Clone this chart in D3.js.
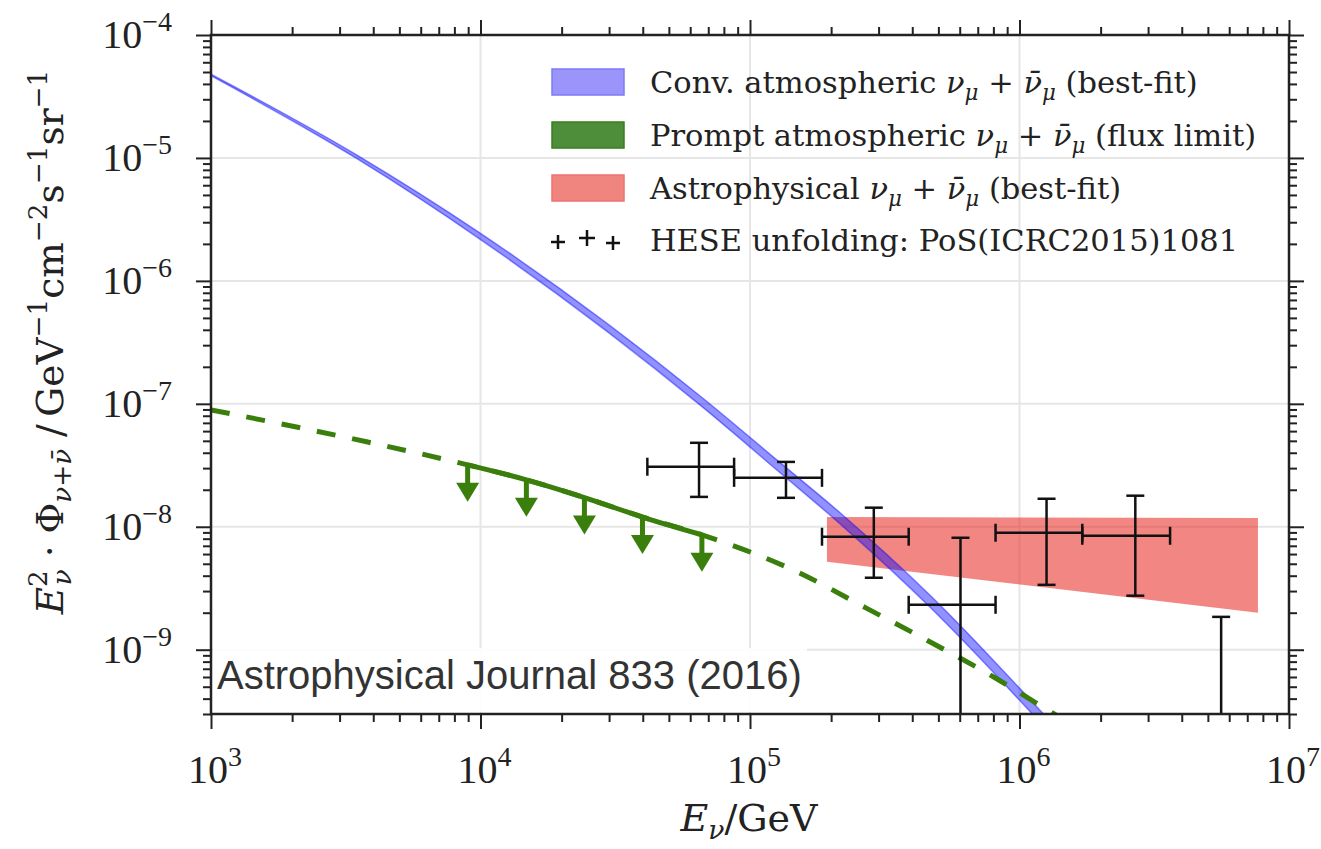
<!DOCTYPE html>
<html>
<head>
<meta charset="utf-8">
<script src="https://cdn.jsdelivr.net/npm/d3@7"></script>
<style>
  body { margin: 0; background: #fff; }
  svg { display: block; }
</style>
</head>
<body>
<div id="chart"></div>
<script>
// conventional atmospheric best fit (band)
let convEnergy = [1e3, 3.48e3, 1e4, 6.76e4, 1.28e5, 2.19e5, 4.72e5, 1.15e6, 1.39e6]
let convFlux = [4.73e-5, 1.02e-5, 2.3e-6, 1.0e-7, 3.08e-8, 1.14e-8, 2.41e-9, 3.13e-10, 2.0e-10]
let convSpread = [1.015, 1.035, 1.06, 1.09, 1.1, 1.11, 1.12, 1.12, 1.12]

// prompt atmospheric model (dashed) and the flux limit (solid + arrows)
let promptEnergy = [1e3, 3.78e3, 8.96e3, 1.48e4, 2.39e4, 3.95e4, 6.63e4, 1.52e5, 2.69e5, 4.72e5, 8.35e5, 1.15e6, 1.52e6]
let promptFlux = [8.93e-8, 4.91e-8, 3.19e-8, 2.41e-8, 1.75e-8, 1.21e-8, 8.61e-9, 4.23e-9, 2.19e-9, 1.14e-9, 5.7e-10, 3.7e-10, 2.55e-10]
let limitEnergy = [8.96e3, 1.48e4, 2.43e4, 3.99e4, 6.63e4]
let limitFlux = [3.19e-8, 2.41e-8, 1.73e-8, 1.2e-8, 8.61e-9]

// astrophysical best fit band
let astroEnergy = [1.93e5, 7.67e6]
let astroUpper = [1.2e-8, 1.18e-8]
let astroLower = [5.2e-9, 2.0e-9]

// HESE unfolding points
let heseEnergy = [6.47e4, 1.36e5, 2.88e5, 6.04e5, 1.26e6, 2.69e6, 5.6e6]
let heseBinLow = [4.16e4, 8.73e4, 1.85e5, 3.88e5, 8.15e5, 1.71e6, null]
let heseBinHigh = [8.73e4, 1.85e5, 3.88e5, 8.15e5, 1.71e6, 3.62e6, null]
let heseFlux = [3.08e-8, 2.5e-8, 8.3e-9, 2.32e-9, 8.94e-9, 8.45e-9, null]
let heseUpper = [4.82e-8, 3.37e-8, 1.43e-8, 8.14e-9, 1.69e-8, 1.79e-8, 1.85e-9]
let heseLower = [1.75e-8, 1.72e-8, 3.85e-9, 1e-12, 3.37e-9, 2.75e-9, 1e-12]

// axes
let xTickExp = [3, 4, 5, 6, 7]
let yTickExp = [-9, -8, -7, -6, -5, -4]

let legendLabels = [
  ["Conv. atmospheric ", " (best-fit)"],
  ["Prompt atmospheric ", " (flux limit)"],
  ["Astrophysical ", " (best-fit)"],
  ["HESE unfolding: PoS(ICRC2015)1081", null]
]
let sourceNote = "Astrophysical Journal 833 (2016)"

let width = 1321, height = 849
let pLeft = 211, pRight = 1289, pTop = 35, pBottom = 714

let serif = "'Liberation Serif', 'Times New Roman', serif"
let wideSerif = "'DejaVu Serif', serif"
let green = "#3a7f0c"

let x = d3.scaleLog().domain([1e3, 1e7]).range([pLeft, pRight])
let y = d3.scaleLog().domain([3.0e-10, 1e-4]).range([pBottom, pTop])

let svg = d3.select("#chart").append("svg")
  .attr("width", width)
  .attr("height", height)
  .style("font-family", serif)

svg.append("clipPath").attr("id", "plot")
  .append("rect")
  .attr("x", pLeft).attr("y", pTop)
  .attr("width", pRight - pLeft).attr("height", pBottom - pTop)

// text with super/subscripts: parts = [{t, sup|sub|it, dx}]
let richText = (text, parts, size) => {
  let shift = 0
  parts.forEach(p => {
    let target = p.sup ? -0.42 * size : p.sub ? 0.22 * size : 0
    let ts = text.append("tspan").text(p.t)
      .attr("dy", target - shift)
      .attr("font-size", (p.sup || p.sub) ? size * 0.7 : size)
    if (p.it) ts.attr("font-style", "italic")
    if (p.dx) ts.attr("dx", p.dx)
    shift = target
  })
}

// grid
let grid = svg.append("g").attr("stroke", "#e6e6e6").attr("stroke-width", 2)
grid.selectAll(".gx").data(xTickExp.slice(1, -1)).enter().append("line")
  .attr("x1", d => x(Math.pow(10, d))).attr("x2", d => x(Math.pow(10, d)))
  .attr("y1", pTop).attr("y2", pBottom)
grid.selectAll(".gy").data(yTickExp.slice(0, -1)).enter().append("line")
  .attr("y1", d => y(Math.pow(10, d))).attr("y2", d => y(Math.pow(10, d)))
  .attr("x1", pLeft).attr("x2", pRight)

let plot = svg.append("g").attr("clip-path", "url(#plot)")

// astrophysical band
let astroArea = d3.area()
  .x((d, i) => x(astroEnergy[i]))
  .y0((d, i) => y(astroLower[i]))
  .y1((d, i) => y(astroUpper[i]))
plot.append("path")
  .attr("d", astroArea(astroEnergy))
  .attr("fill", "#e8231c")
  .attr("fill-opacity", 0.55)

// conventional band
let convArea = d3.area()
  .curve(d3.curveMonotoneX)
  .x((d, i) => x(convEnergy[i]))
  .y0((d, i) => y(convFlux[i] / convSpread[i]))
  .y1((d, i) => y(convFlux[i] * convSpread[i]))
plot.append("path")
  .attr("d", convArea(convEnergy))
  .attr("fill", "blue")
  .attr("fill-opacity", 0.43)
  .attr("stroke", "blue")
  .attr("stroke-opacity", 0.43)
  .attr("stroke-width", 1.5)

// prompt model, dashed
let promptLine = d3.line()
  .curve(d3.curveMonotoneX)
  .x((d, i) => x(promptEnergy[i]))
  .y((d, i) => y(promptFlux[i]))
plot.append("path")
  .attr("d", promptLine(promptEnergy))
  .attr("fill", "none")
  .attr("stroke", green)
  .attr("stroke-width", 5)
  .attr("stroke-dasharray", "19,17")

// flux limit, solid with arrows
let limitLine = d3.line()
  .curve(d3.curveMonotoneX)
  .x((d, i) => x(limitEnergy[i]))
  .y((d, i) => y(limitFlux[i]))
plot.append("path")
  .attr("d", limitLine(limitEnergy))
  .attr("fill", "none")
  .attr("stroke", green)
  .attr("stroke-width", 5)
  .attr("stroke-linejoin", "round")

let arrows = plot.selectAll(".arrow")
  .data(limitEnergy)
  .enter()
  .append("g")
  .attr("transform", (d, i) => "translate(" + x(d) + "," + y(limitFlux[i]) + ")")
arrows.append("line")
  .attr("x1", 0).attr("x2", 0)
  .attr("y1", 0).attr("y2", 22)
  .attr("stroke", green).attr("stroke-width", 5)
arrows.append("path")
  .attr("d", "M-11.5,18 L11.5,18 L0,37 Z")
  .attr("fill", green)

// HESE error bars
let hese = plot.append("g").attr("stroke", "#111").attr("stroke-width", 2.5).attr("fill", "none")
let cap = 9
heseEnergy.forEach((e, i) => {
  let cx = x(e)
  hese.append("line")
    .attr("x1", cx).attr("x2", cx)
    .attr("y1", y(heseUpper[i])).attr("y2", y(heseLower[i]))
  hese.append("line")
    .attr("x1", cx - cap).attr("x2", cx + cap)
    .attr("y1", y(heseUpper[i])).attr("y2", y(heseUpper[i]))
  hese.append("line")
    .attr("x1", cx - cap).attr("x2", cx + cap)
    .attr("y1", y(heseLower[i])).attr("y2", y(heseLower[i]))
  if (heseFlux[i] != null) {
    let cy = y(heseFlux[i])
    hese.append("line")
      .attr("x1", x(heseBinLow[i])).attr("x2", x(heseBinHigh[i]))
      .attr("y1", cy).attr("y2", cy)
    ;[heseBinLow[i], heseBinHigh[i]].forEach(b => {
      hese.append("line")
        .attr("x1", x(b)).attr("x2", x(b))
        .attr("y1", cy - cap).attr("y2", cy + cap)
    })
  }
})

// source note box
svg.append("rect")
  .attr("x", pLeft + 2).attr("y", 648)
  .attr("width", 594).attr("height", 64)
  .attr("fill", "#fff").attr("fill-opacity", 0.9)
svg.append("text")
  .attr("x", 217).attr("y", 689)
  .attr("font-family", "'Liberation Sans', Arial, sans-serif")
  .attr("font-size", 40)
  .attr("fill", "#333")
  .text(sourceNote)

// axes: ticks outward on every side
let majorX = xTickExp.map(d => Math.pow(10, d))
let majorY = yTickExp.map(d => Math.pow(10, d))
let minorX = x.ticks().filter(d => !majorX.some(m => Math.abs(m - d) / m < 1e-6))
let minorY = y.ticks().filter(d => !majorY.some(m => Math.abs(m - d) / m < 1e-6))

let styleAxis = g => {
  g.select(".domain").remove()
  g.selectAll("line").attr("stroke", "#222").attr("stroke-width", 2)
}
let addAxis = (axisFn, scale, pos, majors, minors) => {
  svg.append("g").attr("transform", pos)
    .call(axisFn(scale).tickValues(majors).tickSize(15).tickFormat(""))
    .call(styleAxis)
  svg.append("g").attr("transform", pos)
    .call(axisFn(scale).tickValues(minors).tickSize(8).tickFormat(""))
    .call(styleAxis)
}
addAxis(d3.axisBottom, x, "translate(0," + pBottom + ")", majorX, minorX)
addAxis(d3.axisTop, x, "translate(0," + pTop + ")", majorX, minorX)
addAxis(d3.axisLeft, y, "translate(" + pLeft + ",0)", majorY, minorY)
addAxis(d3.axisRight, y, "translate(" + pRight + ",0)", majorY, minorY)

svg.append("rect")
  .attr("x", pLeft).attr("y", pTop)
  .attr("width", pRight - pLeft).attr("height", pBottom - pTop)
  .attr("fill", "none").attr("stroke", "#222").attr("stroke-width", 2.5)

// tick labels
let tickSize = 40
xTickExp.forEach(d => {
  let t = svg.append("text")
    .attr("x", x(Math.pow(10, d)) + 4).attr("y", 783)
    .attr("text-anchor", "middle")
    .attr("font-size", tickSize)
    .attr("fill", "#222")
  richText(t, [{ t: "10" }, { t: String(d), sup: true }], tickSize)
})
yTickExp.forEach(d => {
  let t = svg.append("text")
    .attr("x", 172).attr("y", y(Math.pow(10, d)) + 13)
    .attr("text-anchor", "end")
    .attr("font-size", tickSize)
    .attr("fill", "#222")
  richText(t, [{ t: "10" }, { t: "\u2212" + Math.abs(d), sup: true }], tickSize)
})

// axis titles
let xTitle = svg.append("text")
  .attr("x", 749).attr("y", 831)
  .attr("text-anchor", "middle")
  .attr("font-family", wideSerif)
  .attr("font-size", 38)
  .attr("fill", "#222")
richText(xTitle, [{ t: "E", it: true }, { t: "\u03bd", sub: true, it: true }, { t: "/GeV" }], 38)

let yTitle = svg.append("text")
  .attr("transform", "translate(63,342) rotate(-90)")
  .attr("text-anchor", "middle")
  .attr("font-family", wideSerif)
  .attr("font-size", 37.5)
  .attr("fill", "#222")
richText(yTitle, [
  { t: "E", it: true }, { t: "2", sup: true }, { t: "\u03bd", sub: true, it: true, dx: -15 },
  { t: " \u00b7 \u03a6" }, { t: "\u03bd+\u03bd\u0304", sub: true, it: true },
  { t: " /\u2009GeV" }, { t: "\u22121", sup: true },
  { t: "cm" }, { t: "\u22122", sup: true },
  { t: "s" }, { t: "\u22121", sup: true },
  { t: "sr" }, { t: "\u22121", sup: true }
], 37.5)

// legend
let legendSize = 30.5
let legendRows = [82, 135, 188, 240]
let legendFills = [
  { fill: "#9a94fb", stroke: "#7b7bf6" },
  { fill: "#4e8e3a", stroke: "#3a7f1c" },
  { fill: "#f0857f", stroke: "#f07070" }
]
let legend = svg.append("g").attr("font-family", wideSerif)
legendFills.forEach((c, i) => {
  legend.append("rect")
    .attr("x", 552).attr("y", legendRows[i] - 13)
    .attr("width", 72).attr("height", 26)
    .attr("fill", c.fill).attr("stroke", c.stroke).attr("stroke-width", 1.5)
})
;[[558, 2, 7], [587, -2, 8], [613, 3, 7]].forEach(p => {
  let cx = p[0], cy = legendRows[3] + p[1], s = p[2]
  legend.append("path")
    .attr("d", "M" + (cx - s) + "," + cy + "H" + (cx + s) + "M" + cx + "," + (cy - s) + "V" + (cy + s))
    .attr("stroke", "#111").attr("stroke-width", 2.5)
})
legendLabels.forEach((l, i) => {
  let t = legend.append("text")
    .attr("x", 650).attr("y", legendRows[i] + 11)
    .attr("font-size", legendSize)
    .attr("fill", "#222")
  if (l[1] == null) {
    richText(t, [{ t: l[0] }], legendSize)
  } else {
    richText(t, [
      { t: l[0] }, { t: "\u03bd", it: true }, { t: "\u03bc", sub: true, it: true },
      { t: " + " }, { t: "\u03bd\u0304", it: true }, { t: "\u03bc", sub: true, it: true },
      { t: l[1] }
    ], legendSize)
  }
})
</script>
</body>
</html>
